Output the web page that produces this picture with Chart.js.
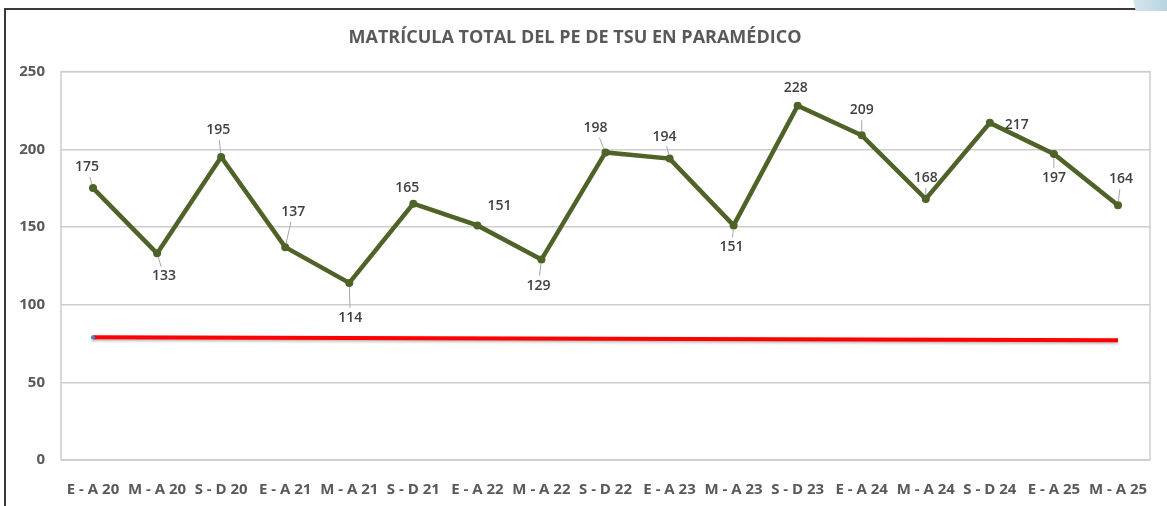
<!DOCTYPE html>
<html>

<head>
    <meta charset="utf-8">
    <title>Matrícula TSU Paramédico</title>
    <script src="https://cdn.jsdelivr.net/npm/chart.js@4/dist/chart.umd.min.js"></script>
    <style>
        body {
            margin: 0;
            background: #fff;
        }

        #marco {
            position: absolute;
            left: 4px;
            top: 8px;
            width: 1163px;
            height: 498px;
            border-left: 2px solid #3a3a3a;
            border-top: 2px solid #3a3a3a;
        }

        /* esquina azul de la diapositiva */
        #esquina {
            position: absolute;
            left: 1133px;
            top: 0;
            width: 34px;
            height: 11px;
            background: linear-gradient(90deg, #d6e6ef, #b9d3e2);
            clip-path: polygon(0 0, 100% 0, 100% 100%, 8% 100%);
        }

        .chart-container {
            position: absolute;
            left: 0;
            top: 0;
            width: 1167px;
            height: 506px;
        }
    </style>
</head>

<body>
    <div id="marco"></div>
    <div id="esquina"></div>
    <div class="chart-container">
        <canvas id="canvas"></canvas>
    </div>

    <script>
        // periodos cuatrimestrales
        const periodos = ['E - A 20', 'M - A 20', 'S - D 20', 'E - A 21', 'M - A 21', 'S - D 21',
            'E - A 22', 'M - A 22', 'S - D 22', 'E - A 23', 'M - A 23', 'S - D 23',
            'E - A 24', 'M - A 24', 'S - D 24', 'E - A 25', 'M - A 25'];

        // matrícula total por periodo
        const matricula = [175, 133, 195, 137, 114, 165, 151, 129, 198, 194, 151, 228, 209, 168, 217, 197, 164];

        // línea roja de referencia (solo extremos)
        const meta = [79, null, null, null, null, null, null, null, null, null, null, null, null, null, null, null, 77];

        // desplazamiento de cada etiqueta respecto a su punto (px)
        const posEtiqueta = [[-6, -21], [7, 23], [-3, -27], [8, -35], [1, 35], [-6, -16], [22, -19], [-3, 26],
            [-10, -24], [-5, -22], [-2, 22], [-2, -18], [0, -25], [0, -21], [27, 2], [0, 24], [3, -26]];

        const gris = '#595959';

        // recuadro del área de trazado
        const recuadro = {
            id: 'recuadro',
            beforeDatasetsDraw(chart) {
                const a = chart.chartArea;
                const ctx = chart.ctx;
                ctx.save();
                ctx.strokeStyle = '#cdcdcd';
                ctx.lineWidth = 1.5;
                ctx.strokeRect(a.left, a.top, a.right - a.left, a.bottom - a.top);
                ctx.restore();
            }
        };

        // sombra suave para la línea roja
        const sombra = {
            id: 'sombra',
            beforeDatasetDraw(chart, args) {
                if (args.index !== 1) return;
                const ctx = chart.ctx;
                ctx.save();
                ctx.shadowColor = 'rgba(0,0,0,0.3)';
                ctx.shadowBlur = 3;
                ctx.shadowOffsetY = 1.5;
            },
            afterDatasetDraw(chart, args) {
                if (args.index !== 1) return;
                chart.ctx.restore();
            }
        };

        // etiquetas de valor con línea guía
        const etiquetas = {
            id: 'etiquetas',
            afterDatasetsDraw(chart) {
                const ctx = chart.ctx;
                const puntos = chart.getDatasetMeta(0).data;
                ctx.save();
                ctx.font = '600 14px "Open Sans"';
                ctx.textAlign = 'center';
                ctx.textBaseline = 'middle';
                puntos.forEach(function (p, i) {
                    const dx = posEtiqueta[i][0], dy = posEtiqueta[i][1];
                    const d = Math.sqrt(dx * dx + dy * dy);
                    if (Math.abs(dy) >= 20) {
                        const ux = dx / d, uy = dy / d;
                        ctx.strokeStyle = '#a6a6a6';
                        ctx.lineWidth = 1;
                        ctx.beginPath();
                        ctx.moveTo(p.x + ux * 4, p.y + uy * 4);
                        ctx.lineTo(p.x + ux * (d - 10), p.y + uy * (d - 10));
                        ctx.stroke();
                    }
                    ctx.fillStyle = '#404040';
                    ctx.fillText(matricula[i], p.x + dx, p.y + dy);
                });
                ctx.restore();
            }
        };

        const chartObject = document.getElementById('canvas');
        const chart = new Chart(chartObject, {
            type: 'line',
            data: {
                labels: periodos,
                datasets: [{
                    label: 'Matrícula',
                    data: matricula,
                    borderColor: '#4f6228',
                    backgroundColor: '#4f6228',
                    borderWidth: 4.5,
                    pointRadius: 4,
                    pointBorderWidth: 0,
                    tension: 0
                }, {
                    label: 'Referencia',
                    data: meta,
                    spanGaps: true,
                    borderColor: '#ff0000',
                    backgroundColor: '#4f81bd',
                    borderWidth: 4,
                    pointRadius: [2, 0, 0, 0, 0, 0, 0, 0, 0, 0, 0, 0, 0, 0, 0, 0, 0],
                    pointBorderWidth: 0
                }]
            },
            options: {
                responsive: true,
                maintainAspectRatio: false,
                animation: false,
                layout: {
                    padding: { left: 0, right: 17, top: 0, bottom: 0 }
                },
                plugins: {
                    legend: { display: false },
                    tooltip: { enabled: false },
                    title: {
                        display: true,
                        text: 'MATRÍCULA TOTAL DEL PE DE TSU EN PARAMÉDICO',
                        color: gris,
                        font: { family: 'Open Sans', size: 18, weight: 'bold' },
                        padding: { top: 27, bottom: 23 }
                    }
                },
                scales: {
                    x: {
                        offset: true,
                        grid: { display: false },
                        border: { display: false },
                        ticks: {
                            color: gris,
                            font: { family: 'Open Sans', size: 15, weight: 'bold' },
                            padding: 13,
                            maxRotation: 0,
                            autoSkip: false
                        },
                        afterFit(scale) { scale.height = 46; }
                    },
                    y: {
                        min: 0,
                        max: 250,
                        grid: { color: '#cdcdcd', lineWidth: 1.5, drawTicks: false },
                        border: { display: false },
                        ticks: {
                            stepSize: 50,
                            color: gris,
                            font: { family: 'Open Sans', size: 15, weight: 'bold' },
                            padding: 16
                        },
                        afterFit(scale) { scale.width = 61; }
                    }
                }
            },
            plugins: [recuadro, sombra, etiquetas]
        });
    </script>
</body>

</html>
